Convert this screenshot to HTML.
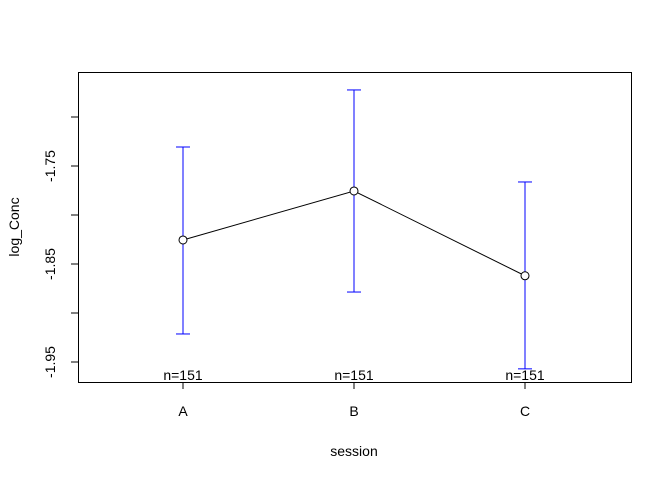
<!DOCTYPE html>
<html><head><meta charset="utf-8"><style>
body{margin:0;background:#fff}
svg text{font-family:"Liberation Sans",Arial,sans-serif;font-size:14px;fill:#000}
</style></head><body>
<svg id="chart" width="672" height="480" xmlns="http://www.w3.org/2000/svg">
<rect x="78.5" y="72.5" width="553" height="310" fill="none" stroke="#000"/>
<g id="yaxis"></g>
<g id="xaxis"></g>
<g id="marks"></g>
<text x="354" y="456" text-anchor="middle">session</text>
<text transform="translate(19,227) rotate(-90)" text-anchor="middle">log_Conc</text>
</svg>
<script>
const categories=["A","B","C"];
const means=[-1.8255,-1.7755,-1.862];
const upper=[-1.7306,-1.6724,-1.7663];
const lower=[-1.9214,-1.8786,-1.957];
const counts=["n=151","n=151","n=151"];
const yTicks=[-1.70,-1.75,-1.80,-1.85,-1.90,-1.95];
const yLabels=["","-1.75","","-1.85","","-1.95"];
const NS="http://www.w3.org/2000/svg";
const x=i=>183+171*i;
const y=v=>166+(-1.75-v)*980;
function mk(t,a,p){const e=document.createElementNS(NS,t);for(const k in a)e.setAttribute(k,a[k]);p.appendChild(e);return e;}
const ya=document.getElementById('yaxis'),xa=document.getElementById('xaxis'),m=document.getElementById('marks');
yTicks.forEach((v,i)=>{
 const l=mk('line',{x1:71,x2:78,y1:y(v),y2:y(v),stroke:'#000'},ya);
 
 
 if(yLabels[i]){const t=mk('text',{transform:`translate(55,${y(v)}) rotate(-90)`,'text-anchor':'middle'},ya);t.textContent=yLabels[i];
 
 }
});
categories.forEach((c,i)=>{
 const l=mk('line',{x1:x(i),x2:x(i),y1:382,y2:389,stroke:'#000'},xa);
 
 
 const t=mk('text',{x:x(i),y:416,'text-anchor':'middle'},xa);t.textContent=c;
 
 
 const n=mk('text',{x:x(i),y:380,'text-anchor':'middle'},m);n.textContent=counts[i];
 
 
 const g=mk('g',{stroke:'#0000ff','stroke-width':1},m);
 
 
 mk('line',{x1:x(i),x2:x(i),y1:y(upper[i]),y2:y(means[i])-4},g);
 mk('line',{x1:x(i),x2:x(i),y1:y(means[i])+4,y2:y(lower[i])},g);
 mk('line',{x1:x(i)-7,x2:x(i)+7,y1:y(upper[i]),y2:y(upper[i])},g);
 mk('line',{x1:x(i)-7,x2:x(i)+7,y1:y(lower[i]),y2:y(lower[i])},g);
});
const pl=mk('polyline',{points:means.map((v,i)=>x(i)+','+y(v)).join(' '),fill:'none',stroke:'#000'},m);


means.forEach((v,i)=>{const c=mk('circle',{cx:x(i),cy:y(v),r:4,fill:'#fff',stroke:'#000'},m);
 
 });
</script>
</body></html>
